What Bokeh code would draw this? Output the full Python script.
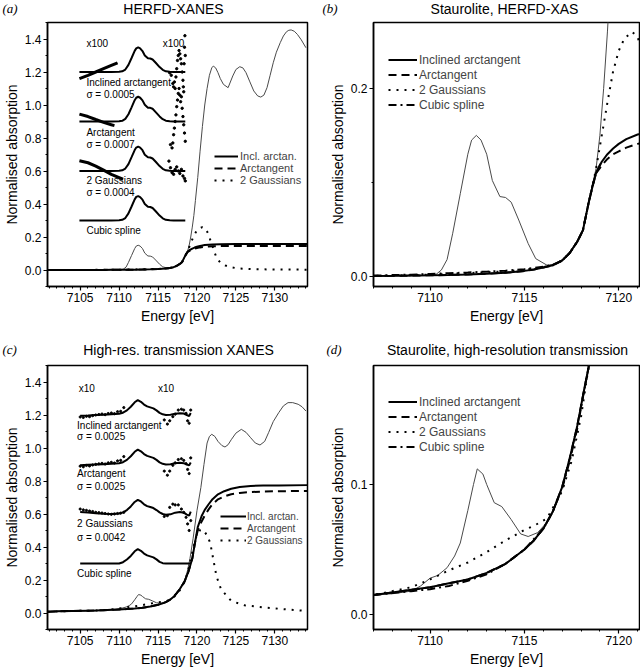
import numpy as np
from bokeh.plotting import figure
from bokeh.models import Label, Legend, LegendItem, FixedTicker, NumeralTickFormatter, Range1d
from bokeh.layouts import row, column
from bokeh.embed import file_html
from bokeh.resources import INLINE

# ------------------------------------------------------------------ data
# HERFD-XANES spectrum (panels a, b)
herfd_E = [7100.8, 7108.0, 7110.0, 7110.3, 7110.6, 7110.9, 7111.2, 7111.6, 7112.0, 7112.2,
           7112.45, 7112.7, 7113.0, 7113.3, 7113.7, 7114.0, 7114.3, 7114.7, 7115.2, 7115.6,
           7116.2, 7116.6, 7117.0, 7117.4, 7117.8, 7118.1, 7118.4, 7118.6, 7118.8, 7119.0,
           7119.2, 7119.4, 7119.6, 7119.8, 7120.1, 7120.4, 7120.7, 7121.0, 7121.3, 7121.6,
           7121.9, 7122.1, 7122.4, 7122.7, 7123.0, 7123.4, 7124.0, 7124.6, 7125.0, 7125.5,
           7125.9, 7126.3, 7126.8, 7127.3, 7127.8, 7128.2, 7128.6, 7129.0, 7129.4, 7129.8,
           7130.2, 7130.7, 7131.1, 7131.5, 7131.8, 7132.1, 7132.5, 7132.9, 7133.4, 7134.0]
herfd_mu = [0.0, 0.0005, 0.001, 0.002, 0.007, 0.018, 0.046, 0.088, 0.13, 0.145,
            0.15, 0.145, 0.13, 0.102, 0.085, 0.084, 0.079, 0.06, 0.035, 0.019,
            0.012, 0.013, 0.018, 0.026, 0.038, 0.05, 0.078, 0.097, 0.115, 0.15,
            0.2, 0.26, 0.33, 0.42, 0.56, 0.72, 0.87, 1.0, 1.1, 1.18,
            1.225, 1.236, 1.225, 1.196, 1.16, 1.125, 1.105, 1.176, 1.215, 1.232,
            1.225, 1.196, 1.14, 1.085, 1.055, 1.048, 1.06, 1.105, 1.18, 1.256,
            1.32, 1.378, 1.418, 1.444, 1.453, 1.455, 1.447, 1.428, 1.395, 1.347]

herfd_fit_E = [7100.8, 7104.0, 7107.0, 7108.0, 7109.0, 7110.0, 7111.0, 7112.0, 7113.0, 7114.0,
               7115.0, 7115.5, 7116.0, 7116.5, 7117.0, 7117.4, 7117.8, 7118.1, 7118.4, 7118.6,
               7118.8, 7119.1, 7119.4, 7119.7, 7120.0, 7120.4, 7121.0, 7121.5, 7122.0, 7123.0,
               7125.0, 7128.0, 7131.0, 7134.2]
herfd_incl = [0.0, 0.0, 0.0005, 0.0007, 0.001, 0.0013, 0.0017, 0.0022, 0.003, 0.004,
              0.006, 0.0075, 0.0095, 0.012, 0.017, 0.025, 0.037, 0.049, 0.078, 0.095,
              0.11, 0.122, 0.13, 0.136, 0.141, 0.146, 0.151, 0.153, 0.155, 0.156,
              0.157, 0.157, 0.158, 0.158]
herfd_arct = [0.0, 0.0, 0.0005, 0.0007, 0.001, 0.0013, 0.0017, 0.0022, 0.003, 0.004,
              0.006, 0.0075, 0.0095, 0.012, 0.017, 0.025, 0.037, 0.049, 0.078, 0.095,
              0.11, 0.118, 0.125, 0.13, 0.133, 0.137, 0.141, 0.143, 0.144, 0.145,
              0.146, 0.146, 0.146, 0.146]
herfd_gauss_E = [7100.8, 7104.0, 7107.0, 7108.0, 7109.0, 7110.0, 7111.0, 7112.0, 7113.0, 7114.0,
                 7115.0, 7115.5, 7116.0, 7116.5, 7117.0, 7117.4, 7117.8, 7118.1, 7118.4, 7118.6,
                 7118.8, 7119.1, 7119.4, 7119.7, 7120.0, 7120.3, 7120.7, 7121.0, 7121.4, 7121.8,
                 7122.1, 7122.5, 7123.0, 7123.6, 7124.2, 7125.2, 7127.0, 7130.0, 7134.2]
herfd_gauss = [0.0, 0.0, 0.0008, 0.001, 0.0015, 0.002, 0.0028, 0.0036, 0.0045, 0.0055,
               0.007, 0.0085, 0.01, 0.012, 0.017, 0.025, 0.037, 0.049, 0.078, 0.095,
               0.115, 0.15, 0.185, 0.218, 0.24, 0.253, 0.26, 0.255, 0.225, 0.17,
               0.13, 0.075, 0.045, 0.028, 0.018, 0.01, 0.005, 0.003, 0.002]
herfd_spline_E = [7107.0, 7108.0, 7109.0, 7110.0, 7111.0, 7112.0, 7113.0, 7114.0, 7115.0, 7116.0,
                  7116.5, 7117.0, 7117.4, 7117.8, 7118.1, 7118.4, 7118.6, 7118.8, 7119.1]
herfd_spline = [0.001, 0.0015, 0.002, 0.0028, 0.0035, 0.0043, 0.0052, 0.0062, 0.0078, 0.0105,
                0.0125, 0.017, 0.025, 0.037, 0.049, 0.078, 0.096, 0.11, 0.123]

# background-subtracted pre-edges (panel a insets) and their offsets
herfd_inset_E = [7104.9, 7106.0, 7107.0, 7108.0, 7109.0, 7110.0, 7110.4, 7110.8, 7111.2, 7111.6,
                 7112.0, 7112.2, 7112.45, 7112.7, 7113.0, 7113.3, 7113.7, 7114.0, 7114.3, 7114.7,
                 7115.2, 7115.6, 7116.0, 7116.5, 7117.0, 7117.5, 7118.0, 7118.5]
herfd_inset_incl = [0.0, 0.0, 0.0, 0.0, 0.0, 0.001, 0.004, 0.015, 0.043, 0.085,
                    0.128, 0.143, 0.149, 0.143, 0.127, 0.1, 0.083, 0.082, 0.076, 0.056,
                    0.03, 0.013, 0.004, 0.001, 0.0, 0.0, 0.0, 0.0]
herfd_inset_arct = [0.0, 0.0, 0.0, 0.0, 0.0, 0.001, 0.004, 0.016, 0.044, 0.086,
                    0.129, 0.144, 0.15, 0.144, 0.128, 0.101, 0.084, 0.083, 0.077, 0.057,
                    0.031, 0.014, 0.005, 0.001, 0.0, 0.0, 0.0, 0.0]
herfd_inset_gauss = [0.0, 0.0, 0.0, 0.0, 0.0, 0.001, 0.004, 0.015, 0.042, 0.084,
                     0.127, 0.142, 0.148, 0.142, 0.126, 0.099, 0.083, 0.082, 0.076, 0.056,
                     0.03, 0.013, 0.004, 0.001, 0.0, 0.0, 0.0, 0.0]
herfd_inset_spline = [0.0, 0.0, 0.0, 0.0, 0.0, 0.001, 0.004, 0.015, 0.043, 0.085,
                      0.128, 0.143, 0.148, 0.142, 0.126, 0.1, 0.083, 0.082, 0.076, 0.056,
                      0.03, 0.013, 0.004, 0.001, 0.0, 0.0, 0.0, 0.0]
herfd_offsets = [1.2, 0.9, 0.6, 0.3]

# residuals x100 (panel a)
herfd_res_incl_left_E = [7104.9, 7106.0, 7107.0, 7108.0, 7109.0, 7109.8]
herfd_res_incl_left = [-0.04, -0.02, 0.0, 0.02, 0.04, 0.056]
herfd_res_arct_left_E = [7104.9, 7106.0, 7107.0, 7108.0, 7109.0, 7109.4]
herfd_res_arct_left = [0.045, 0.03, 0.012, -0.005, -0.02, -0.025]
herfd_res_gauss_left_E = [7104.9, 7106.0, 7107.0, 7108.0, 7109.0, 7110.0, 7110.5]
herfd_res_gauss_left = [0.062, 0.05, 0.03, 0.005, -0.02, -0.04, -0.05]
herfd_res_incl_right_E = [7116.5, 7116.7, 7116.9, 7117.0, 7117.1, 7117.2, 7117.3, 7117.4, 7117.5, 7117.6,
                          7117.7, 7117.8, 7117.9, 7118.0, 7118.1, 7118.2, 7118.25, 7118.3, 7118.35, 7118.4,
                          7118.45, 7118.5]
herfd_res_incl_right = [-0.005, -0.02, -0.07, -0.09, -0.06, -0.1, -0.03, 0.02, 0.07, 0.1,
                        0.13, 0.11, 0.08, 0.05, 0.0, -0.05, -0.09, -0.12, 0.05, 0.15,
                        0.22, 0.1]
herfd_res_arct_right_E = [7116.6, 7116.8, 7116.9, 7117.0, 7117.1, 7117.2, 7117.3, 7117.4, 7117.5, 7117.6,
                          7117.7, 7117.8, 7117.9, 7118.0, 7118.1, 7118.2, 7118.3, 7118.4, 7118.5]
herfd_res_arct_right = [-0.14, -0.16, -0.13, -0.08, -0.04, 0.0, 0.04, 0.09, 0.13, 0.17,
                        0.2, 0.16, 0.12, 0.15, 0.08, 0.03, -0.02, -0.07, -0.12]
herfd_res_gauss_right_E = [7116.4, 7116.6, 7116.8, 7117.0, 7117.2, 7117.4, 7117.6, 7117.8, 7118.0, 7118.2,
                           7118.4, 7118.5]
herfd_res_gauss_right = [0.06, 0.02, -0.01, -0.02, 0.01, 0.025, 0.0, -0.015, 0.01, -0.03,
                         -0.045, -0.06]

# High-resolution transmission spectrum (panels c, d)
trans_E = [7100.8, 7103.0, 7105.0, 7107.0, 7108.0, 7109.0, 7109.5, 7110.0, 7110.4, 7110.9,
           7111.3, 7111.6, 7112.0, 7112.3, 7112.5, 7112.8, 7113.0, 7113.4, 7113.8, 7114.3,
           7114.8, 7115.2, 7115.7, 7116.2, 7116.6, 7117.0, 7117.4, 7117.8, 7118.1, 7118.4,
           7118.8, 7119.1, 7119.5, 7120.0, 7120.5, 7120.9, 7121.3, 7121.6, 7121.9, 7122.3,
           7122.7, 7123.2, 7123.6, 7124.0, 7124.4, 7125.0, 7125.7, 7126.3, 7126.9, 7127.5,
           7128.1, 7128.7, 7129.2, 7129.8, 7130.5, 7131.1, 7131.7, 7132.3, 7133.0, 7133.5,
           7134.0]
trans_mu = [0.008, 0.011, 0.013, 0.015, 0.016, 0.018, 0.022, 0.028, 0.03, 0.036,
            0.045, 0.055, 0.08, 0.1, 0.112, 0.108, 0.1, 0.086, 0.083, 0.073,
            0.062, 0.06, 0.063, 0.071, 0.082, 0.098, 0.12, 0.145, 0.168, 0.19,
            0.26, 0.33, 0.45, 0.62, 0.76, 0.9, 1.03, 1.07, 1.083, 1.07,
            1.04, 1.015, 1.006, 1.02, 1.05, 1.09, 1.113, 1.095, 1.062, 1.03,
            1.018, 1.04, 1.093, 1.16, 1.214, 1.255, 1.275, 1.275, 1.265, 1.25,
            1.224]

trans_fit_E = [7100.8, 7102.0, 7104.0, 7106.0, 7107.0, 7108.0, 7109.0, 7110.0, 7111.0, 7112.0,
               7113.0, 7114.0, 7115.0, 7115.5, 7116.0, 7116.5, 7117.0, 7117.4, 7117.8, 7118.1,
               7118.4, 7118.9, 7119.4, 7119.8, 7120.1, 7120.6, 7121.0, 7121.5, 7122.0, 7122.7,
               7123.5, 7124.4, 7125.5, 7126.9, 7128.5, 7130.5, 7134.2]
trans_incl = [0.008, 0.01, 0.012, 0.014, 0.015, 0.017, 0.019, 0.021, 0.024, 0.027,
              0.032, 0.039, 0.05, 0.057, 0.066, 0.079, 0.098, 0.12, 0.145, 0.168,
              0.19, 0.25, 0.33, 0.44, 0.52, 0.588, 0.625, 0.659, 0.69, 0.719,
              0.738, 0.753, 0.763, 0.77, 0.772, 0.773, 0.775]
trans_arct = [0.008, 0.01, 0.012, 0.014, 0.015, 0.017, 0.019, 0.021, 0.024, 0.027,
              0.032, 0.039, 0.05, 0.057, 0.066, 0.079, 0.098, 0.12, 0.145, 0.168,
              0.19, 0.25, 0.33, 0.44, 0.5, 0.555, 0.59, 0.628, 0.66, 0.689,
              0.706, 0.72, 0.728, 0.733, 0.736, 0.738, 0.74]
trans_gauss_E = [7100.8, 7104.0, 7107.0, 7108.0, 7109.0, 7110.0, 7111.0, 7112.0, 7113.0, 7114.0,
                 7115.0, 7115.6, 7116.2, 7117.0, 7117.5, 7118.0, 7118.5, 7119.0, 7119.5, 7119.9,
                 7120.3, 7120.8, 7121.3, 7121.7, 7122.1, 7122.5, 7123.1, 7124.4, 7126.1, 7129.0,
                 7131.5, 7134.2]
trans_gauss = [0.008, 0.012, 0.015, 0.018, 0.021, 0.027, 0.034, 0.04, 0.048, 0.057,
               0.065, 0.069, 0.074, 0.095, 0.118, 0.152, 0.2, 0.28, 0.39, 0.46,
               0.5, 0.505, 0.47, 0.426, 0.325, 0.224, 0.143, 0.073, 0.047, 0.032,
               0.022, 0.012]
trans_spline_E = [7107.0, 7108.0, 7109.0, 7110.0, 7111.0, 7112.0, 7113.0, 7114.0, 7115.0, 7116.0,
                  7116.5, 7117.0, 7117.4, 7117.8, 7118.1, 7118.4, 7118.9]
trans_spline = [0.015, 0.0165, 0.018, 0.0195, 0.022, 0.026, 0.031, 0.039, 0.05, 0.066,
                0.079, 0.097, 0.118, 0.143, 0.167, 0.19, 0.25]

trans_inset_E = [7105.0, 7106.0, 7107.0, 7108.0, 7109.0, 7110.0, 7110.5, 7111.0, 7111.5, 7112.0,
                 7112.4, 7112.8, 7113.2, 7113.6, 7114.0, 7114.4, 7114.8, 7115.2, 7115.6, 7116.0,
                 7116.6, 7117.2, 7117.8, 7118.3, 7118.7, 7119.0, 7119.2]
trans_inset_incl = [-0.004, -0.003, 0.0, 0.002, 0.004, 0.008, 0.014, 0.028, 0.05, 0.077,
                    0.09, 0.08, 0.063, 0.052, 0.046, 0.04, 0.028, 0.013, 0.004, 0.0,
                    0.002, 0.008, 0.011, 0.009, 0.0, -0.006, 0.012]
trans_inset_arct = [-0.004, -0.002, 0.0, 0.002, 0.004, 0.008, 0.014, 0.028, 0.05, 0.077,
                    0.09, 0.08, 0.063, 0.052, 0.046, 0.04, 0.028, 0.013, 0.004, 0.0,
                    0.002, 0.008, 0.01, 0.008, 0.0, -0.005, 0.012]
trans_inset_gauss = [0.012, 0.009, 0.005, 0.002, 0.0, 0.003, 0.01, 0.024, 0.046, 0.073,
                     0.086, 0.076, 0.059, 0.048, 0.042, 0.036, 0.024, 0.01, 0.0, -0.004,
                     -0.002, 0.008, 0.012, 0.008, -0.004, -0.01, 0.015]
trans_inset_spline = [0.0, 0.0, 0.0, 0.0, 0.0, 0.0, 0.008, 0.024, 0.046, 0.074,
                      0.087, 0.077, 0.06, 0.049, 0.043, 0.037, 0.025, 0.01, 0.002, 0.0,
                      0.0, 0.0, 0.0, 0.0, 0.0, 0.0, 0.0]
trans_offsets = [1.2, 0.9, 0.6, 0.3]

# residuals x10 (panel c)
trans_res_left_E = [7105.0, 7105.4, 7105.8, 7106.2, 7106.6, 7107.0, 7107.4, 7107.8, 7108.2, 7108.6,
                    7109.0, 7109.4, 7109.8, 7110.2, 7110.6]
trans_res_incl_left = [-0.012, -0.015, -0.008, -0.01, -0.004, 0.0, 0.003, 0.006, 0.002, 0.009,
                       0.012, 0.008, 0.02, 0.022, 0.045]
trans_res_arct_left = [-0.01, -0.014, -0.006, -0.009, -0.003, 0.001, 0.004, 0.007, 0.003, 0.01,
                       0.013, 0.009, 0.022, 0.025, 0.048]
trans_res_gauss_left = [0.03, 0.025, 0.022, 0.018, 0.015, 0.01, 0.008, 0.006, 0.003, 0.0,
                        -0.002, 0.0, 0.003, 0.005, 0.01]
trans_res_right_E = [7115.8, 7116.2, 7116.5, 7116.9, 7117.2, 7117.6, 7118.0, 7118.3, 7118.6, 7118.8,
                     7119.0, 7119.2]
trans_res_incl_right = [-0.03, -0.055, -0.035, -0.01, 0.005, 0.03, 0.035, 0.03, 0.01, -0.035,
                        -0.05, 0.03]
trans_res_arct_right = [-0.04, -0.065, -0.04, -0.005, 0.01, 0.03, 0.035, 0.025, 0.005, -0.03,
                        -0.055, 0.04]
trans_res_gauss_right = [-0.015, -0.01, 0.04, 0.06, 0.055, 0.055, 0.03, 0.01, -0.02, -0.06,
                         -0.1, -0.04]

inset_names = ["Inclined arctangent", "Arctangent", "2 Gaussians", "Cubic spline"]
herfd_sigmas = ["\u03c3 = 0.0005", "\u03c3 = 0.0007", "\u03c3 = 0.0004"]
trans_sigmas = ["\u03c3 = 0.0025", "\u03c3 = 0.0025", "\u03c3 = 0.0042"]
legend_short = ["Incl. arctan.", "Arctangent", "2 Gaussians"]
legend_long = ["Inclined arctangent", "Arctangent", "2 Gaussians", "Cubic spline"]
panel_tags = ["(a)", "(b)", "(c)", "(d)"]
panel_titles = ["HERFD-XANES", "Staurolite, HERFD-XAS", "High-res. transmission XANES",
                "Staurolite, high-resolution transmission"]

# ------------------------------------------------------------------ style
FONT = "Liberation Sans"
SERIF = "Liberation Serif"
GREY = "#4a4a4a"
DASH = "8 5"
DOT = "2 6"
DASHDOT = "8 4 2 4"


def make_fig(width, height, bl, br, bt, bb, xr, yr, xt, xm, yt, ym):
    p = figure(width=width, height=height,
               x_range=Range1d(xr[0], xr[1]), y_range=Range1d(yr[0], yr[1]),
               output_backend="svg", toolbar_location=None, tools="",
               min_border_left=bl, min_border_right=br, min_border_top=bt, min_border_bottom=bb)
    p.xgrid.visible = False
    p.ygrid.visible = False
    p.outline_line_color = "black"
    p.outline_line_width = 1.5
    p.background_fill_color = "white"
    p.border_fill_color = "white"
    for ax in (p.xaxis[0], p.yaxis[0]):
        ax.axis_line_width = 1.5
        ax.major_tick_in = 0
        ax.major_tick_out = 4
        ax.minor_tick_in = 0
        ax.minor_tick_out = 2
        ax.major_tick_line_width = 1.2
        ax.minor_tick_line_width = 1
        ax.major_label_text_font = FONT
        ax.major_label_text_font_size = "12px"
        ax.major_label_text_color = "black"
        ax.major_label_standoff = 2
        ax.axis_label_text_font = FONT
        ax.axis_label_text_font_size = "14px"
        ax.axis_label_text_font_style = "normal"
        ax.axis_label_text_color = "black"
    p.xaxis[0].ticker = FixedTicker(ticks=xt, minor_ticks=xm)
    p.yaxis[0].ticker = FixedTicker(ticks=yt, minor_ticks=ym)
    p.xaxis[0].formatter = NumeralTickFormatter(format="0")
    p.yaxis[0].formatter = NumeralTickFormatter(format="0.0")
    p.xaxis[0].axis_label = "Energy [eV]"
    p.xaxis[0].axis_label_standoff = 3
    p.yaxis[0].axis_label = "Normalised absorption"
    p.yaxis[0].axis_label_standoff = 2
    return p


def make_header(height, tag, tag_x, title, title_cx, mid_from_bottom):
    """A strip above a panel that carries its tag and its centred title."""
    h = figure(width=320, height=height, x_range=Range1d(0, 320), y_range=Range1d(0, height),
               output_backend="svg", toolbar_location=None, tools="",
               x_axis_type=None, y_axis_type=None, title_location=None,
               min_border_left=0, min_border_right=0, min_border_top=0, min_border_bottom=0)
    h.outline_line_color = None
    h.background_fill_color = "white"
    h.border_fill_color = "white"
    h.add_layout(Label(x=tag_x, y=mid_from_bottom, text=tag, text_font=SERIF,
                       text_font_style="italic", text_font_size="13px", text_align="left",
                       text_baseline="middle", text_color="black"))
    h.add_layout(Label(x=title_cx, y=mid_from_bottom, text=title, text_font=FONT,
                       text_font_size="14px", text_align="center",
                       text_baseline="middle", text_color="black"))
    return h


def data_text(p, x, y, text, size=10):
    p.add_layout(Label(x=x, y=y, text=text, text_font=FONT, text_font_size=f"{size}px",
                       text_align="left", text_baseline="middle", text_color="black"))


def add_legend(p, renderers, labels, loc, gw, rowh, fsize, standoff):
    items = [LegendItem(label=l, renderers=[r]) for l, r in zip(labels, renderers)]
    leg = Legend(items=items, location=loc, border_line_color=None, background_fill_alpha=0,
                 padding=0, margin=0, spacing=0, glyph_width=gw, glyph_height=rowh,
                 label_height=rowh, label_standoff=standoff, label_text_font=FONT,
                 label_text_font_size=f"{fsize}px")
    p.add_layout(leg)


xt_wide = [7105, 7110, 7115, 7120, 7125, 7130]
xm_wide = list(range(7101, 7135))
yt_wide = [0.0, 0.2, 0.4, 0.6, 0.8, 1.0, 1.2, 1.4]
ym_wide = [-0.1, 0.1, 0.3, 0.5, 0.7, 0.9, 1.1, 1.3, 1.5]
xt_zoom = [7110, 7115, 7120]
xm_zoom = list(range(7107, 7122))

# ------------------------------------------------------------------ headers
ha = make_header(18, panel_tags[0], 2, panel_titles[0], 173, 10)
hb = make_header(18, panel_tags[1], 2, panel_titles[1], 184, 10)
hc = make_header(24, panel_tags[2], 2, panel_titles[2], 178, 11)
hd = make_header(24, panel_tags[3], 6, panel_titles[3], 187, 11)

# ------------------------------------------------------------------ panel (a)
pa = make_fig(320, 318, 42, 13, 4, 50, (7100.8, 7134.2), (-0.1, 1.5), xt_wide, xm_wide, yt_wide, ym_wide)
pa.line(herfd_E, herfd_mu, line_color=GREY, line_width=1)
ra1 = pa.line(herfd_fit_E, herfd_incl, line_color="black", line_width=2)
ra2 = pa.line(herfd_fit_E, herfd_arct, line_color="black", line_width=2, line_dash=DASH)
ra3 = pa.line(herfd_gauss_E, herfd_gauss, line_color="black", line_width=2, line_dash=DOT)
for off, d in zip(herfd_offsets, [herfd_inset_incl, herfd_inset_arct, herfd_inset_gauss, herfd_inset_spline]):
    pa.line(herfd_inset_E, np.array(d) + off, line_color="black", line_width=2)
for off, (le, ld) in zip(herfd_offsets, [(herfd_res_incl_left_E, herfd_res_incl_left),
                                         (herfd_res_arct_left_E, herfd_res_arct_left),
                                         (herfd_res_gauss_left_E, herfd_res_gauss_left)]):
    pa.line(le, np.array(ld) + off, line_color="black", line_width=3)
for off, (re_, rd) in zip(herfd_offsets, [(herfd_res_incl_right_E, herfd_res_incl_right),
                                          (herfd_res_arct_right_E, herfd_res_arct_right),
                                          (herfd_res_gauss_right_E, herfd_res_gauss_right)]):
    pa.scatter(re_, np.array(rd) + off, size=2.4, color="black")
data_text(pa, 7105.8, 1.37, "x100")
data_text(pa, 7115.6, 1.37, "x100")
data_text(pa, 7105.8, 1.135, inset_names[0])
data_text(pa, 7105.8, 1.065, herfd_sigmas[0])
data_text(pa, 7105.8, 0.836, inset_names[1])
data_text(pa, 7105.8, 0.758, herfd_sigmas[1])
data_text(pa, 7105.8, 0.54, inset_names[2])
data_text(pa, 7105.8, 0.468, herfd_sigmas[2])
data_text(pa, 7105.8, 0.24, inset_names[3])
add_legend(pa, [ra1, ra2, ra3], legend_short, (167, 100), 24, 12, 11, 2)

# ------------------------------------------------------------------ panel (b)
pb = make_fig(320, 318, 53, 1, 4, 50, (7107.0, 7121.1), (-0.0106, 0.27), xt_zoom, xm_zoom, [0.0, 0.2], [0.1])
pb.line(herfd_E, herfd_mu, line_color=GREY, line_width=1)
rb1 = pb.line(herfd_fit_E, herfd_incl, line_color="black", line_width=2)
rb2 = pb.line(herfd_fit_E, herfd_arct, line_color="black", line_width=2, line_dash=DASH)
rb3 = pb.line(herfd_gauss_E, herfd_gauss, line_color="black", line_width=2, line_dash=DOT)
rb4 = pb.line(herfd_spline_E, herfd_spline, line_color="black", line_width=2, line_dash=DASHDOT)
add_legend(pb, [rb1, rb2, rb3, rb4], legend_long, (15, 174), 29, 15, 12, 2)

# ------------------------------------------------------------------ panel (c)
pc = make_fig(320, 312, 42, 13, 5, 43, (7100.8, 7134.2), (-0.1, 1.5), xt_wide, xm_wide, yt_wide, ym_wide)
pc.line(trans_E, trans_mu, line_color=GREY, line_width=1)
rc1 = pc.line(trans_fit_E, trans_incl, line_color="black", line_width=2)
rc2 = pc.line(trans_fit_E, trans_arct, line_color="black", line_width=2, line_dash=DASH)
rc3 = pc.line(trans_gauss_E, trans_gauss, line_color="black", line_width=2, line_dash=DOT)
for off, d in zip(trans_offsets, [trans_inset_incl, trans_inset_arct, trans_inset_gauss, trans_inset_spline]):
    pc.line(trans_inset_E, np.array(d) + off, line_color="black", line_width=2)
for off, ld, rd in zip(trans_offsets, [trans_res_incl_left, trans_res_arct_left, trans_res_gauss_left],
                       [trans_res_incl_right, trans_res_arct_right, trans_res_gauss_right]):
    pc.scatter(trans_res_left_E, np.array(ld) + off, size=2.2, color="black")
    pc.scatter(trans_res_right_E, np.array(rd) + off, size=2.2, color="black")
data_text(pc, 7104.8, 1.36, "x10")
data_text(pc, 7115.0, 1.36, "x10")
data_text(pc, 7104.6, 1.137, inset_names[0])
data_text(pc, 7104.6, 1.067, trans_sigmas[0])
data_text(pc, 7104.6, 0.844, inset_names[1])
data_text(pc, 7104.6, 0.764, trans_sigmas[1])
data_text(pc, 7104.6, 0.541, inset_names[2])
data_text(pc, 7104.6, 0.46, trans_sigmas[2])
data_text(pc, 7104.6, 0.238, inset_names[3])
add_legend(pc, [rc1, rc2, rc3], legend_short, (173, 83), 26, 12, 10, 1)

# ------------------------------------------------------------------ panel (d)
pd_ = make_fig(320, 312, 53, 1, 5, 43, (7107.0, 7121.1), (-0.0115, 0.1915), xt_zoom, xm_zoom, [0.0, 0.1], [])
pd_.line(trans_E, trans_mu, line_color=GREY, line_width=1)
rd1 = pd_.line(trans_fit_E, trans_incl, line_color="black", line_width=2)
rd2 = pd_.line(trans_fit_E, trans_arct, line_color="black", line_width=2, line_dash=DASH)
rd3 = pd_.line(trans_gauss_E, trans_gauss, line_color="black", line_width=2, line_dash=DOT)
rd4 = pd_.line(trans_spline_E, trans_spline, line_color="black", line_width=2, line_dash=DASHDOT)
add_legend(pd_, [rd1, rd2, rd3, rd4], legend_long, (15, 175), 29, 15, 12, 2)

layout = column(row(ha, hb), row(pa, pb), row(hc, hd), row(pc, pd_))
open("out.html", "w").write(file_html(layout, INLINE))
